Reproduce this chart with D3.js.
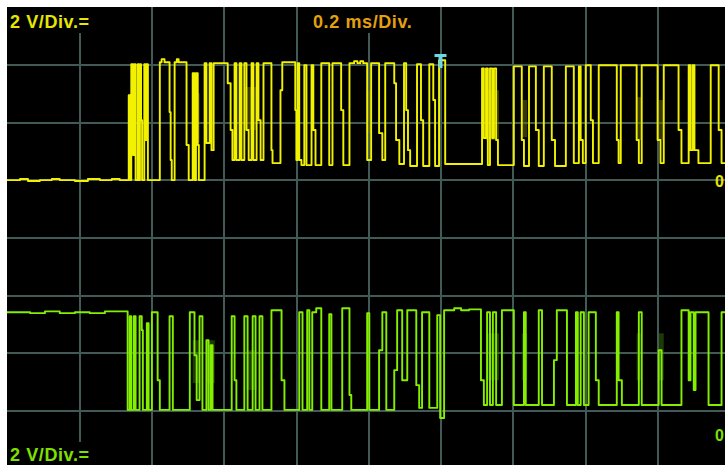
<!DOCTYPE html>
<html>
<head>
<meta charset="utf-8">
<script src="https://cdn.jsdelivr.net/npm/d3@7"></script>
<style>
  html, body { margin: 0; padding: 0; background: #ffffff; }
  svg { display: block; }
  text { font-family: "Liberation Sans", Arial, sans-serif; font-weight: bold; font-size: 18px; }
</style>
</head>
<body>
<svg id="scope" width="725" height="465"></svg>
<script>
// ---- Scope settings -------------------------------------------------------
const timebaseLabel = "0.2 ms/Div.";
const ch1Label = "2 V/Div.=";
const ch2Label = "2 V/Div.=";
const groundLabel = "0";
const timeDomain = [-1.2, 0.8];              // ms, trigger at 0
const timeGridTicks = [-1.0, -0.8, -0.6, -0.4, -0.2, 0.0, 0.2, 0.4, 0.6];
const voltsPerDiv = 2;
const divisionTicks = [1, 2, 3, 4, 5, 6, 7];  // horizontal graticule (divisions from top)
const ch1GroundDiv = 3.02;
const ch2GroundDiv = 7.43;

// ---- Channel 1 (yellow) : sample time (ms) / level (V) ----------------------
const ch1Time = [-1.200,-1.164,-1.142,-1.109,-1.076,-1.054,-1.012,-0.976,-0.943,-0.910,-0.888,
  -0.863,-0.859,-0.856,-0.851,-0.848,-0.844,-0.838,-0.835,-0.832,-0.829,-0.826,-0.820,-0.817,-0.814,-0.810,
  -0.777,-0.772,-0.764,-0.750,-0.747,-0.744,-0.736,-0.730,-0.725,-0.703,-0.697,-0.686,-0.681,-0.677,-0.672,-0.669,
  -0.653,-0.648,-0.639,-0.634,-0.628,-0.589,-0.581,-0.576,-0.570,-0.565,-0.556,-0.551,-0.543,-0.537,-0.531,-0.523,-0.518,-0.509,-0.504,-0.498,-0.490,
  -0.468,-0.465,-0.443,-0.438,-0.402,-0.399,-0.395,-0.391,-0.385,-0.377,-0.371,-0.357,-0.352,-0.346,-0.330,-0.308,-0.299,-0.275,-0.269,
  -0.252,-0.239,-0.230,-0.222,-0.214,-0.203,-0.192,-0.170,-0.161,-0.153,-0.128,-0.123,-0.114,-0.101,-0.095,-0.090,-0.084,-0.065,-0.054,-0.048,-0.031,-0.020,-0.015,-0.004,
  0.013,0.115,0.120,0.126,0.131,0.137,0.143,0.148,0.154,0.159,0.203,0.225,0.231,0.245,0.264,0.272,0.286,0.308,0.317,0.347,
  0.369,0.383,0.388,0.394,0.402,0.416,0.422,0.438,0.488,0.493,0.499,0.543,0.549,0.557,0.601,0.609,0.618,0.659,0.667,0.687,0.692,0.698,0.703,0.714,0.748,0.770,0.778];
const ch1Volt = [0.03,0.07,0.00,0.03,0.07,0.03,0.00,0.07,0.03,0.07,0.03,
  2.98,0.03,4.05,0.90,4.05,0.03,4.05,0.03,4.05,2.11,0.03,4.05,1.42,4.05,0.03,
  4.12,4.23,4.12,2.39,0.73,0.03,4.12,4.23,4.12,1.25,0.03,3.74,0.03,3.74,1.25,0.03,
  4.09,1.32,4.09,1.07,4.09,3.39,1.77,0.73,4.09,0.73,4.09,0.73,4.09,1.77,0.73,4.09,0.73,4.09,2.11,0.73,4.09,
  1.07,0.62,3.15,4.12,2.46,0.73,4.09,0.73,0.55,4.02,0.55,4.02,1.77,0.55,4.09,0.55,4.09,2.46,0.55,
  4.09,4.16,4.09,4.16,4.09,0.73,4.09,1.66,0.73,4.09,3.39,1.42,0.59,4.09,2.46,1.07,0.52,4.05,2.11,0.52,4.05,2.81,0.52,4.19,
  0.59,3.91,1.49,3.91,0.55,3.91,1.49,3.91,1.42,0.55,3.98,1.42,0.52,3.98,1.77,0.52,3.98,1.42,0.52,3.98,
  0.62,3.98,1.42,0.62,4.02,2.11,0.62,4.02,1.42,0.62,4.02,1.42,0.62,4.02,1.42,0.62,4.02,1.77,0.62,4.02,1.07,4.02,1.07,0.62,4.02,1.77,0.62];

// ---- Channel 2 (green) ------------------------------------------------------
const ch2Time = [-1.200,-1.136,-1.095,-1.054,-1.012,-0.971,-0.929,
  -0.866,-0.860,-0.856,-0.849,-0.844,-0.833,-0.827,-0.824,-0.813,-0.808,-0.799,-0.783,-0.777,-0.750,-0.741,
  -0.694,-0.681,-0.675,-0.667,-0.659,-0.648,-0.642,-0.636,-0.631,-0.578,-0.570,-0.565,-0.543,-0.534,-0.520,-0.512,-0.501,-0.493,
  -0.468,-0.440,-0.432,-0.391,-0.382,-0.369,-0.363,-0.355,-0.344,-0.330,-0.308,-0.302,-0.272,-0.252,-0.247,-0.203,-0.197,
  -0.170,-0.161,-0.150,-0.128,-0.120,-0.106,-0.092,-0.067,-0.059,-0.051,-0.031,-0.009,-0.001,
  0.010,0.038,0.057,0.079,0.112,0.120,0.129,0.137,0.145,0.154,0.170,0.203,0.231,0.236,0.272,0.281,0.314,0.322,0.350,
  0.375,0.380,0.388,0.397,0.410,0.430,0.438,0.488,0.493,0.502,0.549,0.557,0.604,0.612,0.667,0.687,0.692,0.701,0.706,0.742,0.778];
const ch2Volt = [4.26,4.23,4.29,4.23,4.26,4.23,4.29,
  0.87,4.12,0.87,4.12,0.87,4.12,3.64,0.87,3.88,0.87,4.26,1.90,0.87,4.12,0.87,
  4.26,2.77,1.21,4.12,0.87,3.29,0.87,3.12,0.87,4.12,1.90,0.87,4.12,0.87,4.12,0.87,4.12,0.87,
  4.33,1.90,0.87,4.26,0.87,4.33,0.87,4.26,4.40,0.87,4.19,0.87,4.40,1.39,0.87,4.23,0.87,
  2.94,4.26,0.87,2.25,4.33,1.90,4.33,1.73,0.94,4.26,0.94,4.16,0.59,
  4.33,4.40,4.33,4.36,1.90,1.04,4.26,1.04,4.26,1.04,4.33,1.04,4.26,1.04,4.33,1.04,2.60,4.33,1.04,
  4.26,1.04,4.26,1.04,4.26,1.90,1.04,4.26,1.90,1.04,4.26,1.04,2.94,1.04,4.33,1.90,4.26,1.56,4.26,1.04,4.26];

// Persistence (dim overlapping sweeps): [t0, t1, vLow, vHigh]
const ch1Persist = [[-0.686,-0.667,1.32,3.05],[-0.543,-0.509,1.77,3.26],[-0.205,-0.192,1.66,3.15],
  [0.126,0.162,1.42,3.15],[0.225,0.240,1.52,2.81],[0.543,0.557,1.42,2.91],[0.601,0.618,1.42,2.81]];
const ch2Persist = [[-0.686,-0.667,1.80,3.29],[-0.648,-0.625,1.80,3.29],[-0.537,-0.509,1.56,2.94],
  [0.126,0.162,1.90,3.53],[0.225,0.240,1.90,3.53],[0.543,0.554,1.90,3.53],[0.604,0.618,1.90,3.53]];

// ---- Geometry ---------------------------------------------------------------
const W = 725, H = 465;
const screen = { x: 7, y: 7, w: 722.5, h: 460.8 };

const svg = d3.select("#scope");
const x = d3.scaleLinear().domain(timeDomain).range([screen.x, screen.x + screen.w]);
const yDiv = d3.scaleLinear().domain([0, 8]).range([screen.y, screen.y + screen.h]);
const chScale = g => (v => yDiv(g - v / voltsPerDiv));
const y1 = chScale(ch1GroundDiv), y2 = chScale(ch2GroundDiv);

svg.append("rect").attr("width", W).attr("height", H).attr("fill", "#ffffff");
svg.append("rect").attr("x", screen.x).attr("y", screen.y)
  .attr("width", W - screen.x).attr("height", H - screen.y).attr("fill", "#000000");

// Graticule via axes
const gridColor = "#425a56";
const gx = svg.append("g").attr("transform", `translate(0,${screen.y + screen.h})`)
  .call(d3.axisBottom(x).tickValues(timeGridTicks).tickSize(-screen.h).tickFormat(""));
const gy = svg.append("g").attr("transform", `translate(${screen.x},0)`)
  .call(d3.axisLeft(yDiv).tickValues(divisionTicks).tickSize(-(W - screen.x)).tickFormat(""));
[gx, gy].forEach(g => {
  g.select(".domain").remove();
  g.selectAll(".tick line").attr("stroke", gridColor).attr("stroke-width", 2)
    .attr("shape-rendering", "crispEdges");
});

// Black boxes behind the readouts
const boxes = [[7, 7, 90, 26], [302, 7, 126, 26], [7, 442, 90, 23]];
svg.selectAll("rect.box").data(boxes).join("rect").attr("class", "box")
  .attr("x", d => d[0]).attr("y", d => d[1]).attr("width", d => d[2]).attr("height", d => d[3])
  .attr("fill", "#000000");

// Persistence bands
function persist(data, ys, color) {
  svg.append("g").selectAll("rect").data(data).join("rect")
    .attr("x", d => x(d[0])).attr("width", d => x(d[1]) - x(d[0]))
    .attr("y", d => ys(d[3])).attr("height", d => ys(d[2]) - ys(d[3]))
    .attr("fill", color).attr("opacity", 0.5);
}
persist(ch1Persist, y1, "#6e6e0c");
persist(ch2Persist, y2, "#3c700c");

// Traces
function trace(times, volts, ys, color) {
  const n = Math.min(times.length, volts.length);
  const pts = d3.range(n).map(i => [times[i], volts[i]]);
  pts.push([timeDomain[1], volts[n - 1]]);
  const line = d3.line().x(d => x(d[0])).y(d => ys(d[1])).curve(d3.curveStepAfter);
  svg.append("path").datum(pts).attr("d", line)
    .attr("fill", "none").attr("stroke", color).attr("stroke-width", 1.9)
    .attr("stroke-linejoin", "round");
}
trace(ch1Time, ch1Volt, y1, "#f2f200");
trace(ch2Time, ch2Volt, y2, "#84f000");

// Trigger marker
const tx = x(0);
svg.append("path")
  .attr("d", `M${tx - 6},54 h12 v3 h-4 v11 h-4 v-11 h-4 z`)
  .attr("fill", "#6fd6e6");

// Readouts
svg.append("text").attr("x", 10).attr("y", 28).attr("fill", "#e6e600")
  .attr("letter-spacing", 0.6).text(ch1Label);
svg.append("text").attr("x", 313).attr("y", 28).attr("fill", "#e4a010")
  .attr("letter-spacing", 0.6).text(timebaseLabel);
svg.append("text").attr("x", 10).attr("y", 461).attr("fill", "#7ee000")
  .attr("letter-spacing", 0.6).text(ch2Label);
svg.append("text").attr("x", 715).attr("y", y1(0) + 6).attr("fill", "#e6e600")
  .style("font-size", "16px").text(groundLabel);
svg.append("text").attr("x", 715).attr("y", y2(0) + 6).attr("fill", "#7ee000")
  .style("font-size", "16px").text(groundLabel);
</script>
</body>
</html>
